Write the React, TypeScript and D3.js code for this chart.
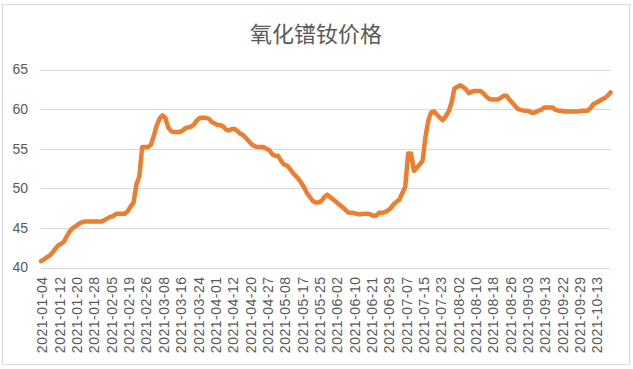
import React from "react";
import * as d3 from "d3";

const title = "氧化镨钕价格";

// tick labels, one every 6 trading days
const tickLabels = [
  "2021-01-04", "2021-01-12", "2021-01-20", "2021-01-28", "2021-02-05",
  "2021-02-19", "2021-02-26", "2021-03-08", "2021-03-16", "2021-03-24",
  "2021-04-01", "2021-04-12", "2021-04-20", "2021-04-27", "2021-05-08",
  "2021-05-17", "2021-05-25", "2021-06-02", "2021-06-10", "2021-06-21",
  "2021-06-29", "2021-07-07", "2021-07-15", "2021-07-23", "2021-08-02",
  "2021-08-10", "2021-08-18", "2021-08-26", "2021-09-03", "2021-09-13",
  "2021-09-22", "2021-09-29", "2021-10-13",
];
const labelEvery = 6;

// price (万元/吨), one value per trading day
const prices = [
  40.8, 41.0, 41.3, 41.5, 41.9, 42.4,
  42.8, 43.0, 43.3, 44.0, 44.6, 45.0,
  45.2, 45.5, 45.7, 45.8, 45.8, 45.8,
  45.8, 45.8, 45.8, 45.8, 46.0, 46.2,
  46.4, 46.5, 46.8, 46.8, 46.8, 46.8,
  47.1, 47.7, 48.2, 50.5, 51.5, 55.2,
  55.2, 55.2, 55.5, 56.6, 57.9, 58.8,
  59.2, 58.9, 57.7, 57.2, 57.1, 57.1,
  57.1, 57.3, 57.6, 57.7, 57.8, 58.1,
  58.6, 58.9, 58.9, 58.9, 58.8, 58.4,
  58.2, 58.0, 58.0, 57.8, 57.4, 57.3,
  57.5, 57.5, 57.2, 56.9, 56.7, 56.3,
  55.9, 55.5, 55.3, 55.2, 55.2, 55.2,
  55.0, 54.8, 54.3, 54.1, 54.1, 53.5,
  53.0, 52.9, 52.5, 52.0, 51.6, 51.2,
  50.7, 50.1, 49.4, 48.9, 48.4, 48.2,
  48.2, 48.4, 48.9, 49.2, 48.9, 48.6,
  48.3, 48.0, 47.7, 47.4, 47.0, 46.9,
  46.9, 46.8, 46.7, 46.75, 46.8, 46.8,
  46.7, 46.5, 46.6, 46.9, 46.9, 47.0,
  47.2, 47.5, 48.0, 48.3, 48.6, 49.4,
  50.2, 54.4, 54.4, 52.2, 52.6, 53.0,
  53.5, 56.5, 58.6, 59.6, 59.7, 59.3,
  58.9, 58.6, 59.1, 59.7, 60.8, 62.6,
  62.8, 63.0, 62.8, 62.5, 62.0, 62.2,
  62.3, 62.3, 62.3, 62.0, 61.6, 61.3,
  61.2, 61.2, 61.2, 61.4, 61.7, 61.7,
  61.2, 60.8, 60.4, 60.0, 59.9, 59.8,
  59.8, 59.7, 59.5, 59.6, 59.8, 59.9,
  60.2, 60.2, 60.2, 60.2, 59.9, 59.8,
  59.8, 59.7, 59.7, 59.7, 59.7, 59.7,
  59.7, 59.8, 59.8, 59.8, 60.1, 60.6,
  60.8, 61.0, 61.2, 61.4, 61.7, 62.1,
];

const yTicks = [40, 45, 50, 55, 60, 65];

const W = 633;
const H = 369;
const plot = { left: 40.5, right: 610.5, top: 69.5, bottom: 267.5 };

const numFont = "'Liberation Sans', Arial, sans-serif";

export default function App() {
  const x = d3
    .scaleLinear()
    .domain([0, prices.length - 1])
    .range([plot.left + 0.5, plot.right]);
  const y = d3.scaleLinear().domain([40, 65]).range([plot.bottom, plot.top]);

  const line = d3
    .line<number>()
    .x((d, i) => x(i))
    .y((d) => y(d));

  return (
    <svg
      width={W}
      height={H}
      style={{ position: "absolute", left: 0, top: 0, background: "#fff" }}
    >
      <rect x={2.5} y={4.5} width={627} height={360} fill="#fff" stroke="#d9d9d9" />
      <text
        x={316}
        y={42}
        textAnchor="middle"
        fontSize={22}
        fontFamily="'Noto Sans CJK SC', sans-serif"
        fill="#595959"
      >
        {title}
      </text>

      {yTicks.map((t) => (
        <g key={t}>
          <line
            x1={plot.left}
            x2={plot.right}
            y1={Math.round(y(t)) + 0.5}
            y2={Math.round(y(t)) + 0.5}
            stroke="#d9d9d9"
            strokeWidth={1}
          />
          <text
            x={28}
            y={y(t)}
            dy="0.35em"
            textAnchor="end"
            fontSize={14}
            fontFamily={numFont}
            fill="#595959"
          >
            {t}
          </text>
        </g>
      ))}

      {tickLabels.map((lab, k) => (
        <text
          key={lab}
          transform={`translate(${x(k * labelEvery) + 1.5},${plot.bottom + 9}) rotate(-90)`}
          dy="0.35em"
          textAnchor="end"
          fontSize={14}
          letterSpacing={0.5}
          fontFamily={numFont}
          fill="#595959"
        >
          {lab}
        </text>
      ))}

      <path
        d={line(prices) || ""}
        fill="none"
        stroke="#ED7D31"
        strokeWidth={4.5}
        strokeLinejoin="round"
        strokeLinecap="round"
      />
    </svg>
  );
}
